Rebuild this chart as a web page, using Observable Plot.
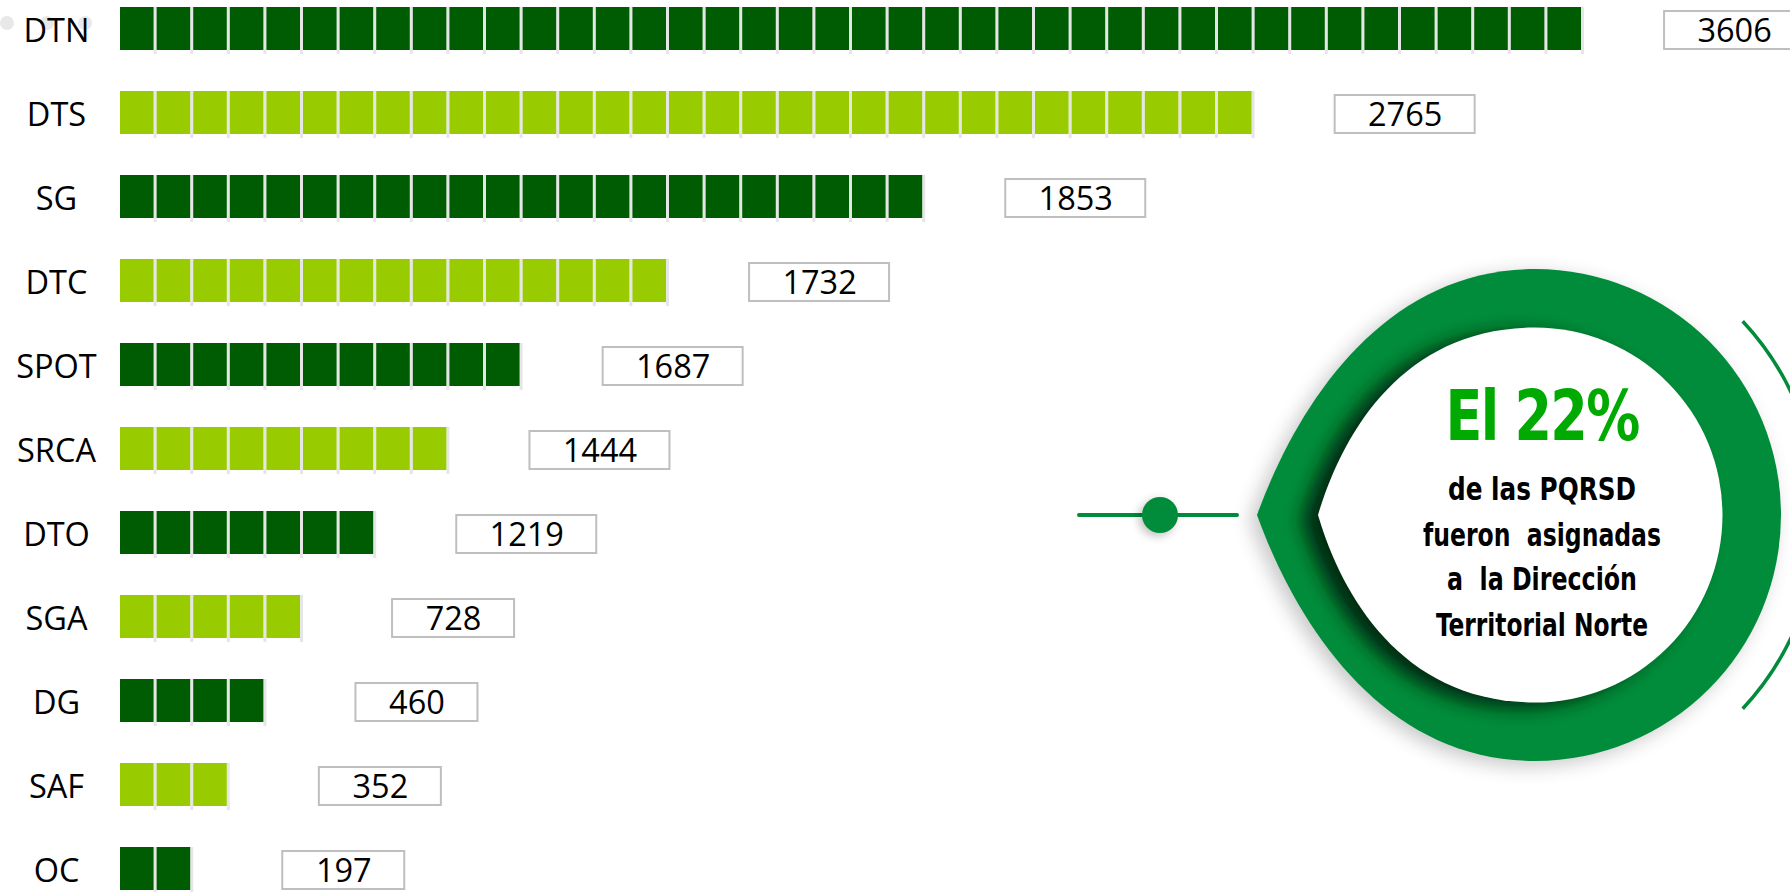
<!DOCTYPE html>
<html><head><meta charset="utf-8">
<script src="https://cdn.jsdelivr.net/npm/d3@7"></script>
<script src="https://cdn.jsdelivr.net/npm/@observablehq/plot@0.6"></script>
<style>html,body{margin:0;padding:0;background:#fff;overflow:hidden}</style>
</head><body><div id="chart"></div>
<script>
// ---- data ----
const categories = ["DTN","DTS","SG","DTC","SPOT","SRCA","DTO","SGA","DG","SAF","OC"];
const values = [3606,2765,1853,1732,1687,1444,1219,728,460,352,197];
const tileCounts = [40,31,22,15,11,9,7,5,4,3,2];
const calloutTitle = "El 22%";
const calloutLines = ["de las PQRSD","fueron  asignadas","a  la Dirección","Territorial Norte"];

// ---- derived tables ----
const rows = categories.map((c,i)=>({cat:c, value:values[i], tiles:tileCounts[i], shade: i%2===0 ? "dark" : "light"}));
const tiles = rows.flatMap(r => d3.range(r.tiles).map(k => ({cat:r.cat, k, shade:r.shade})));

const pitch = 36.6, x0 = 120, xMax = 46;
const labelOffset = 4.1;               // value label centre, in tiles past bar end
const halfW = d => (String(d.value).length >= 4 ? 70 : 61) / pitch;

const GREEN = "#008c3a";

function dotsDecor() {
  const g = d3.create("svg:g");
  [7,47,85].forEach(x => g.append("circle").attr("cx",x).attr("cy",23).attr("r",7).attr("fill","#e8e8e8"));
  return g.node();
}

function callout() {
  const g = d3.create("svg:g");
  const defs = g.append("defs");
  const f1 = defs.append("filter").attr("id","blurOuter").attr("x","-30%").attr("y","-30%").attr("width","160%").attr("height","160%");
  f1.append("feGaussianBlur").attr("stdDeviation",10);
  const f2 = defs.append("filter").attr("id","blurInner").attr("x","-30%").attr("y","-30%").attr("width","160%").attr("height","160%");
  f2.append("feGaussianBlur").attr("stdDeviation",9);
  const f3 = defs.append("filter").attr("id","blurDot").attr("x","-100%").attr("y","-100%").attr("width","300%").attr("height","300%");
  f3.append("feGaussianBlur").attr("stdDeviation",5);

  const outer = "M1257,515 C1298,402 1385,269 1535,269 A246,246 0 0 1 1535,761 C1385,761 1298,628 1257,515 Z";
  const inner = "M1318,515 C1343,430 1405,327.5 1535,327.5 A187.5,187.5 0 0 1 1535,702.5 C1405,702.5 1343,600 1318,515 Z";
  defs.append("clipPath").attr("id","clipOuter").append("path").attr("d", outer);

  // connector
  g.append("line").attr("x1",1079).attr("x2",1237).attr("y1",515).attr("y2",515)
    .attr("stroke",GREEN).attr("stroke-width",4).attr("stroke-linecap","round");
  g.append("circle").attr("cx",1157).attr("cy",518).attr("r",18).attr("fill","#000").attr("opacity",0.25).attr("filter","url(#blurDot)");
  g.append("circle").attr("cx",1160).attr("cy",515).attr("r",18).attr("fill",GREEN);

  // outer soft shadow
  g.append("path").attr("d",outer).attr("fill","#000").attr("opacity",0.22)
    .attr("transform","translate(-7,5)").attr("filter","url(#blurOuter)");
  // ring
  g.append("path").attr("d",outer).attr("fill",GREEN);
  // inner dark shading on ring
  g.append("g").attr("clip-path","url(#clipOuter)")
    .append("path").attr("d",inner).attr("fill","#00240d").attr("opacity",0.92)
    .attr("transform","translate(-16,5)").attr("filter","url(#blurInner)");
  // white face
  g.append("path").attr("d",inner).attr("fill","#fff");

  // thin outer arc
  const r = 284, a = 43 * Math.PI/180;
  g.append("path")
    .attr("d", `M${1535 + r*Math.cos(a)},${515 - r*Math.sin(a)} A${r},${r} 0 0 1 ${1535 + r*Math.cos(a)},${515 + r*Math.sin(a)}`)
    .attr("fill","none").attr("stroke",GREEN).attr("stroke-width",3.5);

  const fam = "'DejaVu Sans Condensed','Liberation Sans Narrow','Arial Narrow',sans-serif";
  g.append("text").attr("x",1542).attr("y",440).attr("text-anchor","middle")
    .attr("font-family",fam).attr("font-weight","bold").attr("font-size",70)
    .attr("fill","#00aa00").attr("textLength",193).attr("lengthAdjust","spacingAndGlyphs")
    .attr("letter-spacing",-2)
    .text(calloutTitle);
  const ys = [500,546,590,636], lens = [188,238,190,212];
  calloutLines.forEach((t,i) => {
    g.append("text").attr("x",1542).attr("y",ys[i]).attr("text-anchor","middle")
      .attr("font-family",fam).attr("font-weight","bold").attr("font-size",32)
      .attr("fill","#000").attr("textLength",lens[i]).attr("lengthAdjust","spacingAndGlyphs")
      .attr("xml:space","preserve").style("white-space","pre")
      .text(t);
  });
  return g.node();
}

const chart = Plot.plot({
  width: 1790, height: 892,
  marginTop: 0, marginBottom: 0, marginLeft: 0, marginRight: 0,
  style: {background: "white", overflow: "hidden"},
  x: {type: "linear", domain: [0, xMax], range: [x0, x0 + xMax*pitch], axis: null},
  y: {type: "band", domain: categories, range: [3.95, 892.6], paddingInner: 0.483, paddingOuter: 0, align: 0.5, axis: null},
  color: {domain: ["dark","light"], range: ["#005c03","#99cc00"]},
  marks: [
    dotsDecor,
    Plot.barX(tiles, {x1: "k", x2: d => d.k + 1, y: "cat", fill: "#e6e6e6", insetLeft: pitch - 3, insetBottom: -4}),
    Plot.barX(tiles, {x1: "k", x2: d => d.k + 1, y: "cat", fill: "shade", insetRight: 3}),
    Plot.text(rows, {y: "cat", text: "cat", frameAnchor: "left", dx: 56, dy: 3, textAnchor: "middle",
      fontSize: 32.5, fontFamily: "Open Sans", fill: "#000"}),
    Plot.barX(rows, {x1: d => d.tiles + labelOffset - halfW(d), x2: d => d.tiles + labelOffset + halfW(d), y: "cat",
      fill: "white", stroke: "#bfbfbf", strokeWidth: 2, insetTop: 4, insetBottom: 1}),
    Plot.text(rows, {x: d => d.tiles + labelOffset, y: "cat", text: d => String(d.value), dy: 3, textAnchor: "middle",
      fontSize: 32.5, fontFamily: "Open Sans", fill: "#000"}),
    callout
  ]
});
document.getElementById("chart").appendChild(chart);
</script>
</body></html>
